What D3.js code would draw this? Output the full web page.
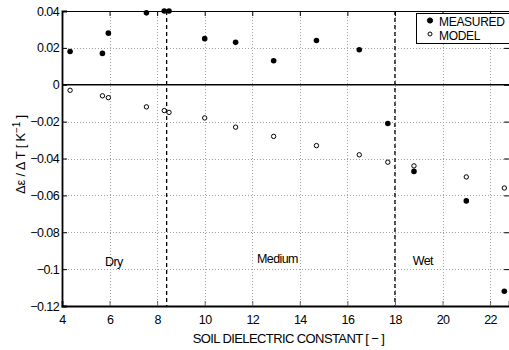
<!DOCTYPE html>
<html>
<head>
<meta charset="utf-8">
<script src="https://cdn.jsdelivr.net/npm/d3@7"></script>
<style>
  html, body { margin: 0; padding: 0; background: #fff; }
  svg { display: block; }
  text { font-family: "Liberation Sans", Arial, Helvetica, sans-serif; fill: #000; }
</style>
</head>
<body>
<svg id="chart" width="509" height="350"></svg>
<script>
// Soil dielectric constant (x) for each sample
const dielectric = [4.34, 5.70, 5.95, 7.55, 8.30, 8.50, 10.0, 11.3, 12.9, 14.7, 16.5, 17.7, 18.8, 21.0, 22.6];
// Measured temperature sensitivity of emissivity [1/K]
const measured = [0.018, 0.017, 0.028, 0.039, 0.040, 0.040, 0.025, 0.023, 0.013, 0.024, 0.019, -0.021, -0.047, -0.063, -0.112];
// Model temperature sensitivity [1/K]
const model = [-0.003, -0.006, -0.007, -0.012, -0.014, -0.015, -0.018, -0.023, -0.028, -0.033, -0.038, -0.042, -0.044, -0.050, -0.056];

const xTicks = [4, 6, 8, 10, 12, 14, 16, 18, 20, 22];
const yTicks = [0.04, 0.02, 0, -0.02, -0.04, -0.06, -0.08, -0.1, -0.12];
const yTickLabels = ["0.04", "0.02", "0", "\u22120.02", "\u22120.04", "\u22120.06", "\u22120.08", "\u22120.1", "\u22120.12"];

// Moisture class boundaries and labels
const boundaries = [8.4, 18];
const regions = [
  { label: "Dry", x: 5.81, y: -0.0983 },
  { label: "Medium", x: 12.2, y: -0.0967 },
  { label: "Wet", x: 18.75, y: -0.0978 }
];
const legendItems = [
  { label: "MEASURED", filled: true },
  { label: "MODEL", filled: false }
];

const svg = d3.select("#chart");
const plotLeft = 62, plotTop = 11, plotBottom = 306;
const x = d3.scaleLinear().domain([4, 22.8]).range([plotLeft, 509.1]);
const y = d3.scaleLinear().domain([-0.12, 0.04]).range([plotBottom, plotTop]);
const plotRight = x.range()[1];

// Dotted grid
const grid = svg.append("g").attr("stroke", "#a0a0a0").attr("stroke-width", 1).attr("stroke-dasharray", "1,2");
grid.selectAll("line.vx").data(xTicks.slice(1)).join("line")
  .attr("x1", d => Math.round(x(d)) + 0.5).attr("x2", d => Math.round(x(d)) + 0.5)
  .attr("y1", plotTop).attr("y2", plotBottom);
grid.selectAll("line.hy").data(yTicks.filter(v => v !== 0 && v !== 0.04 && v !== -0.12)).join("line")
  .attr("x1", plotLeft).attr("x2", plotRight)
  .attr("y1", d => Math.round(y(d)) + 0.5).attr("y2", d => Math.round(y(d)) + 0.5);

// Zero line
svg.append("line")
  .attr("x1", plotLeft).attr("x2", plotRight)
  .attr("y1", y(0)).attr("y2", y(0))
  .attr("stroke", "#000").attr("stroke-width", 1.3);

// Moisture class boundaries
svg.selectAll("line.bnd").data(boundaries).join("line")
  .attr("x1", d => x(d)).attr("x2", d => x(d))
  .attr("y1", plotTop).attr("y2", plotBottom)
  .attr("stroke", "#000").attr("stroke-width", 1.3).attr("stroke-dasharray", "4,3");

// Axes (ticks pointing inward)
const xAxis = d3.axisBottom(x).tickValues(xTicks).tickSize(-5).tickPadding(9).tickFormat(d3.format("d"));
const gx = svg.append("g").attr("transform", `translate(0,${plotBottom})`).call(xAxis);
const xTop = d3.axisTop(x).tickValues(xTicks).tickSize(-5).tickFormat("");
const gxt = svg.append("g").attr("transform", `translate(0,${plotTop})`).call(xTop);
const yAxis = d3.axisLeft(y).tickValues(yTicks).tickSize(-5).tickPadding(3)
  .tickFormat((d, i) => yTickLabels[i]);
const gy = svg.append("g").attr("transform", `translate(${plotLeft},0)`).call(yAxis);
const yRight = d3.axisRight(y).tickValues(yTicks).tickSize(-5).tickFormat("");
svg.append("g").attr("transform", `translate(${plotRight},0)`).call(yRight);

[gx, gxt, gy].forEach(g => {
  g.select(".domain").attr("stroke", "#000").attr("stroke-width", 1.8);
  g.selectAll(".tick line").attr("stroke", "#000").attr("stroke-width", 1);
  g.selectAll("text").attr("font-size", 12.5).attr("fill", "#000")
    .style("font-family", "'Liberation Sans', Arial, sans-serif").attr("letter-spacing", "-0.6");
});
gx.selectAll(".tick line").attr("stroke", "#666");
gxt.select(".domain").attr("stroke-width", 1.2);

// Region labels
svg.selectAll("text.region").data(regions).join("text")
  .attr("class", "region")
  .attr("x", d => x(d.x)).attr("y", d => y(d.y))
  .attr("font-size", 12.5).attr("letter-spacing", "-0.6")
  .text(d => d.label);

// Model points (open circles)
svg.append("g").selectAll("circle").data(dielectric).join("circle")
  .attr("cx", d => x(d)).attr("cy", (d, i) => y(model[i]))
  .attr("r", 2.2).attr("fill", "#fff").attr("stroke", "#000").attr("stroke-width", 1);

// Measured points (filled circles)
svg.append("g").selectAll("circle").data(dielectric).join("circle")
  .attr("cx", d => x(d)).attr("cy", (d, i) => y(measured[i]))
  .attr("r", 2.8).attr("fill", "#000");

// Legend
const lg = svg.append("g");
lg.append("rect").attr("x", 416.5).attr("y", 13.5).attr("width", 120).attr("height", 30)
  .attr("fill", "#fff").attr("stroke", "#000").attr("stroke-width", 1);
legendItems.forEach((d, i) => {
  const cy = 20.5 + i * 13.5;
  lg.append("circle").attr("cx", 430).attr("cy", cy)
    .attr("r", d.filled ? 2.6 : 2)
    .attr("fill", d.filled ? "#000" : "#fff").attr("stroke", "#000").attr("stroke-width", 1);
  lg.append("text").attr("x", 439).attr("y", cy + 5.5)
    .attr("font-size", 12).attr("letter-spacing", "-0.3").text(d.label);
});

// Axis titles
svg.append("text")
  .attr("x", (plotLeft + plotRight) / 2 + 3).attr("y", 343)
  .attr("text-anchor", "middle").attr("font-size", 13).attr("letter-spacing", "-0.6")
  .text("SOIL DIELECTRIC CONSTANT [ \u2212 ]");

const yl = svg.append("text")
  .attr("transform", `translate(25,${(plotTop + plotBottom) / 2 - 4}) rotate(-90)`)
  .attr("text-anchor", "middle").attr("font-size", 13).attr("letter-spacing", "-0.2");
yl.append("tspan").text("\u0394\u03b5 / \u0394 T    [  K");
yl.append("tspan").attr("dy", -5).attr("font-size", 10).text("\u22121");
yl.append("tspan").attr("dy", 5).text(" ]");
</script>
</body>
</html>
